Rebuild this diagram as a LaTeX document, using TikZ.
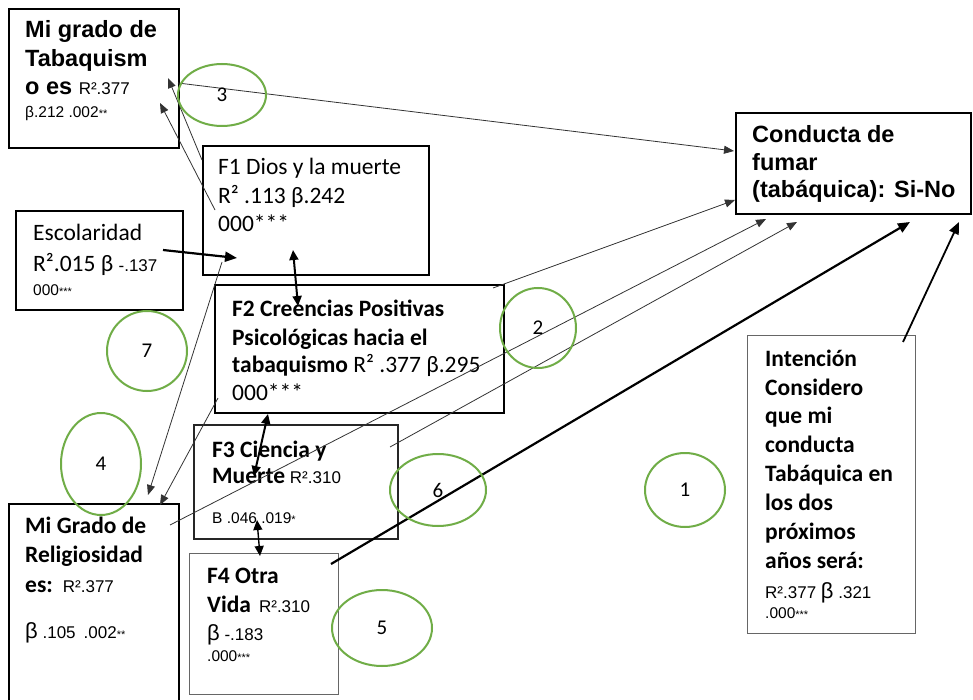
\documentclass[tikz,border=0pt]{standalone}
\usepackage{fontspec}
\setmainfont{Carlito}
\newfontfamily\arialf{Liberation Sans}
\usetikzlibrary{arrows.meta,shapes.geometric}
\definecolor{cgreen}{HTML}{70AD47}
\newcommand\arB{\arialf\bfseries\fontsize{23.5}{28}\selectfont}
\newcommand\arM{\arialf\mdseries\fontsize{17}{20}\selectfont}
\newcommand\arS{\arialf\mdseries\fontsize{15.5}{18}\selectfont}
\newcommand\arT{\arialf\mdseries\fontsize{11}{13}\selectfont}
\newcommand\arL{\arialf\mdseries\fontsize{22}{26}\selectfont}
\newcommand\calR{\mdseries\fontsize{23.5}{28}\selectfont}
\newcommand\calB{\bfseries\fontsize{23.5}{28}\selectfont}
\tikzset{
  thickbox/.style={draw=black, line width=2.4pt, inner sep=0pt, anchor=north west},
  medbox/.style={draw=black!85, line width=1.8pt, inner sep=0pt, anchor=north west},
  thinbox/.style={draw=black!60, line width=1pt, inner sep=0pt, anchor=north west},
  txt/.style={inner sep=0pt, anchor=base west},
  circ/.style={draw=cgreen, line width=2pt, ellipse, inner sep=0pt, font=\fontsize{21}{24}\selectfont},
  thinarrow/.style={draw=black!80, line width=0.8pt, -{Triangle[length=10pt,width=8pt]}},
  thickarrow/.style={draw=black, line width=2.2pt, -{Triangle[length=12pt,width=10pt]}},
  dblarrow/.style={draw=black, line width=2pt, {Triangle[length=10pt,width=9pt]}-{Triangle[length=10pt,width=9pt]}},
}
\begin{document}
\begin{tikzpicture}[x=1pt,y=-1pt]
\useasboundingbox (0,0) rectangle (973,700);
\fill[white] (0,0) rectangle (973,700);

% boxes
\node[thickbox, minimum width=170pt, minimum height=139pt] (tab) at (8,8) {};
\node[thickbox, minimum width=226pt, minimum height=129pt] (f1) at (202,145) {};
\node[thickbox, minimum width=167pt, minimum height=99pt] (esc) at (15,210) {};
\node[thickbox, minimum width=289pt, minimum height=128pt] (f2) at (214,284) {};
\node[medbox, minimum width=204pt, minimum height=114pt] (f3) at (193,424) {};
\node[thinbox, minimum width=149pt, minimum height=141pt] (f4) at (189,553) {};
\node[thickbox, minimum width=170pt, minimum height=205pt] (rel) at (8,503) {};
\node[thickbox, minimum width=235pt, minimum height=101pt] (con) at (735,112) {};
\node[thinbox, minimum width=168pt, minimum height=298pt] (int) at (747,335) {};

% texts
\node[txt] (tab1) at (25,38) {\arB Mi grado de};
\node[txt] (tab2) at (25,67) {\arB Tabaquism};
\node[txt] (tab3) at (25,95) {\arB o es {\arM R².377}};
\node[txt] (tab4) at (25,118) {\arS β.212 .002{\arT **}};

\node[txt] (f1a) at (218,175) {\calR F1 Dios y la muerte};
\node[txt] (f1b) at (218,204) {\calR R² .113 β.242};
\node[txt] (f1c) at (218,232) {\calR 000***};

\node[txt] (esc1) at (33,241) {\calR Escolaridad};
\node[txt] (esc2) at (33,272) {\calR R².015 β {\arM -.137}};
\node[txt] (esc3) at (33,295) {\arS 000{\arT ***}};

\node[txt] (f2a) at (232,316) {\calB F2 Creencias Positivas};
\node[txt] (f2b) at (232,345) {\calB Psicológicas hacia el};
\node[txt] (f2c) at (232,372) {\calB tabaquismo\calR{} R² .377 β.295};
\node[txt] (f2d) at (232,400) {\calR 000***};

\node[txt] (f3a) at (212,457) {\calB F3 Ciencia y};
\node[txt] (f3b) at (212,483) {\calB Muerte\arM{} R².310};
\node[txt] (f3c) at (212,523) {\arS B .046 .019{\arT *}};

\node[txt] (f4a) at (207,583) {\calB F4 Otra};
\node[txt] (f4b) at (207,612) {\calB Vida\hspace{8pt}\arM R².310};
\node[txt] (f4c) at (207,640) {\arL β\arM{} -.183};
\node[txt] (f4d) at (207,661) {\arS .000{\arT ***}};

\node[txt] (rel1) at (25,533) {\calB Mi Grado de};
\node[txt] (rel2) at (25,562) {\calB Religiosidad};
\node[txt] (rel3) at (25,592) {\calB es:\hspace{10pt}\arM R².377};
\node[txt] (rel4) at (25,638) {\arL β\arM{} .105\hspace{8pt}.002{\arT **}};

\node[txt] (con1) at (752,143) {\arB Conducta de};
\node[txt] (con2) at (752,171) {\arB fumar};
\node[txt] (con3) at (752,198) {\arB (tabáquica): Si-No};

\node[txt] (int1) at (765,366) {\calB Intención};
\node[txt] (int2) at (765,395) {\calB Considero};
\node[txt] (int3) at (765,423) {\calB que mi};
\node[txt] (int4) at (765,452) {\calB conducta};
\node[txt] (int5) at (765,481) {\calB Tabáquica en};
\node[txt] (int6) at (765,510) {\calB los dos};
\node[txt] (int7) at (765,539) {\calB próximos};
\node[txt] (int8) at (765,568) {\calB años será:};
\node[txt] (int9) at (765,598) {\arM R².377 {\arL β} .321};
\node[txt] (int10) at (765,618) {\arS .000{\arT ***}};

% connector end points
\coordinate (a1) at (178,83);   \coordinate (b1) at (734,151);
\coordinate (a2) at (202,160);  \coordinate (b2) at (168,78);
\coordinate (a3) at (215,210);  \coordinate (b3) at (160,103);
\coordinate (a4) at (163,250);  \coordinate (b4) at (237,258);
\coordinate (a5) at (293,250);  \coordinate (b5) at (298,306);
\coordinate (a6) at (268,414);  \coordinate (b6) at (254,476);
\coordinate (a7) at (257,520);  \coordinate (b7) at (260,556);
\coordinate (a8) at (331,564);  \coordinate (b8) at (910,222);
\coordinate (a9) at (903,342);  \coordinate (b9) at (959,222);
\coordinate (a10) at (493,288); \coordinate (b10) at (735,200);
\coordinate (a11) at (170,525); \coordinate (b11) at (766,219);
\coordinate (a12) at (390,447); \coordinate (b12) at (797,222);
\coordinate (a13) at (222,262); \coordinate (b13) at (148,495);
\coordinate (a14) at (218,398); \coordinate (b14) at (160,505);

% connectors
\draw[thinarrow] (a1) -- (b1);
\draw[thinarrow] (a2) -- (b2);
\draw[thinarrow] (a3) -- (b3);
\draw[thickarrow] (a4) -- (b4);
\draw[dblarrow] (a5) -- (b5);
\draw[dblarrow] (a6) -- (b6);
\draw[dblarrow, line width=1.4pt] (a7) -- (b7);
\draw[thickarrow] (a8) -- (b8);
\draw[thickarrow, line width=1.8pt] (a9) -- (b9);
\draw[thinarrow] (a10) -- (b10);
\draw[thinarrow] (a11) -- (b11);
\draw[thinarrow] (a12) -- (b12);
\draw[thinarrow] (a13) -- (b13);
\draw[thinarrow] (a14) -- (b14);

% green ellipses
\node[circ, minimum width=88pt, minimum height=62pt] (e3) at (222,95) {3};
\node[circ, minimum width=76pt, minimum height=80pt] (e2) at (538,328) {2};
\node[circ, minimum width=80pt, minimum height=80pt] (e7) at (147,351) {7};
\node[circ, minimum width=80pt, minimum height=102pt] (e4) at (101,464) {4};
\node[circ, minimum width=96pt, minimum height=72pt] (e6) at (438,490) {6};
\node[circ, minimum width=80pt, minimum height=74pt] (e1) at (685,490) {1};
\node[circ, minimum width=100pt, minimum height=76pt] (e5) at (382,628) {5};
\end{tikzpicture}
\end{document}
